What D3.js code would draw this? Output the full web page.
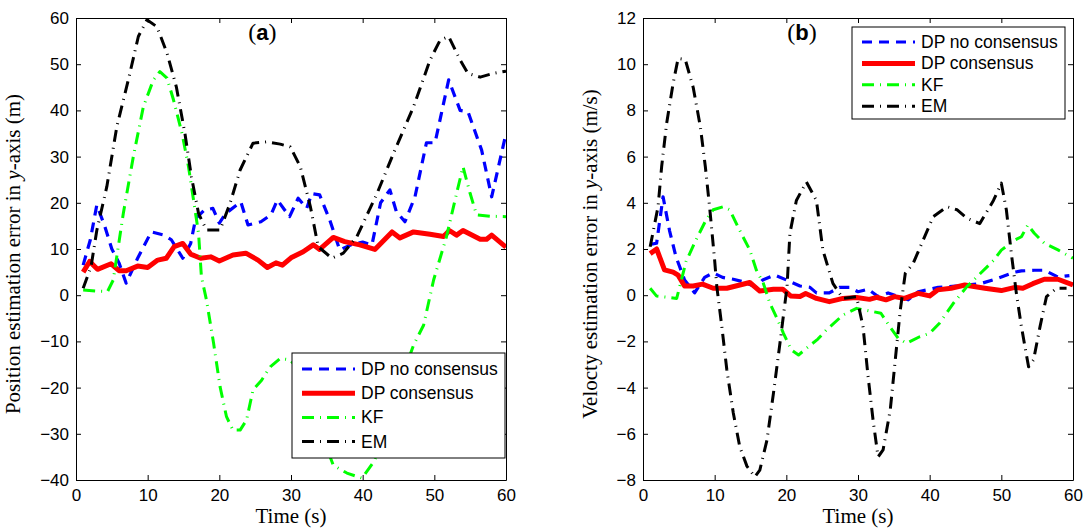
<!DOCTYPE html>
<html>
<head>
<meta charset="utf-8">
<script src="https://cdn.jsdelivr.net/npm/d3@7"></script>
<style>
body { margin: 0; background: #fff; }
.tick text { font-family: "Liberation Sans", Arial, sans-serif; font-size: 17px; fill: #000; }
.axis path, .axis line { stroke: #000; stroke-width: 1; }
.lbl { font-family: "Liberation Serif", "Times New Roman", serif; font-size: 21px; fill: #000; }
.leg text { font-family: "Liberation Sans", Arial, sans-serif; font-size: 17.5px; fill: #000; }
</style>
</head>
<body>
<svg id="chart" width="1085" height="529"></svg>
<script>
// legend / series names
var seriesNames = ["DP no consensus", "DP consensus", "KF", "EM"];
var xTicks = [0, 10, 20, 30, 40, 50, 60];
var yTicksA = [-40, -30, -20, -10, 0, 10, 20, 30, 40, 50, 60];
var yTicksB = [-8, -6, -4, -2, 0, 2, 4, 6, 8, 10, 12];

// (a) position error, [time, value]
var posDpNoCons = [[1,6.5],[2,12],[2.9,19.5],[4,15],[5,10],[6,7],[7,2.6],[8.6,8],[10.5,13.7],[12.3,13],[13.3,12],[14.9,8],[16,11.2],[16.7,16.6],[17.9,18.4],[19.1,18.8],[20,15.6],[20.9,17.7],[23,20.2],[24,15.2],[25.8,15.9],[27.2,17.4],[28.1,20.6],[29.8,17],[31,21],[32.2,18.8],[32.9,22],[34,21.7],[35.4,16.3],[36.8,9.8],[38.5,11],[40,11.5],[41.3,10.9],[42.5,20],[43.8,22.8],[44.7,18.1],[45.9,15.9],[47.3,21.3],[48.9,33],[50.1,33],[52,46.6],[53.6,40],[54.7,39.7],[56.6,31.4],[58,21.3],[60,35]];
var posDpCons = [[1,5],[1.9,7.3],[3,5.6],[4.9,6.8],[6,5.3],[7,5.3],[8.6,6.3],[10,6],[11.4,7.6],[12.6,8],[13.7,10.5],[14.9,11.2],[16,8.9],[17.4,8],[18.8,8.3],[20,7.4],[21.9,8.7],[23.7,9.1],[25.4,7.6],[26.7,6],[27.9,7],[28.8,6.5],[30,8.1],[31.7,9.4],[33.1,10.9],[34,9.9],[35.9,12.5],[37.5,11.6],[39.6,10.9],[41.7,9.9],[44.1,13.7],[45.2,12.4],[47.1,13.7],[49.4,13.2],[51.3,12.7],[52.1,14],[53.1,13],[54,14],[56.4,12.1],[57.3,12.1],[58,13],[60,10.4]];
var posKF = [[1,1.1],[2.8,0.9],[4.4,0.8],[5.2,3.3],[6.6,17.7],[8,30],[9.4,40.8],[10.8,46.6],[11.7,48.4],[12.7,47],[13.6,42.3],[14.8,35],[15.7,27.8],[16.4,20.6],[17.1,13.4],[17.5,4],[18.2,-1],[19.2,-10.4],[20.1,-19.8],[21,-26.3],[21.9,-29.2],[22.9,-29.2],[23.8,-27],[24.7,-20.5],[25.9,-18.4],[27.1,-15.5],[28.5,-13.7],[29.9,-14],[31.5,-17],[33.5,-27],[35.9,-36.8],[37.8,-38.5],[39.9,-39.6],[41.7,-35.7],[44.5,-22],[47.1,-10.8],[48.5,-6.5],[49.9,3.3],[51.7,12.7],[53.1,22],[54,27.8],[55,22],[55.9,17.4],[57.8,17.1],[60,17]];
var posEM = [[1,1.5],[2.1,6.2],[2.9,14],[4.3,23.5],[5.7,36.5],[7.3,46.6],[8.7,56],[9.9,59.6],[11.3,58.1],[12.7,52.4],[14,45.1],[15.2,35],[16.1,25.7],[17.1,17.7],[18.2,14.1],[20.1,14.1],[21.5,19.9],[22.9,27.1],[24.7,32.9],[26.6,33.2],[28.5,32.7],[29.9,32.1],[31.3,27.8],[32.7,19.2],[33.8,10.5],[35.7,8],[37.3,9.1],[39.2,12.7],[42,22],[44.3,30.7],[47.1,40.8],[49.4,50.9],[50.8,55.2],[52,56],[53.6,50.9],[54.7,48],[56.4,47.2],[58.2,48],[60,48.5]];

// (b) velocity error, [time, value]
var velDpNoCons = [[1,2.2],[1.9,2.25],[2.8,4.26],[3.7,2.8],[4.6,1.67],[5.8,0.66],[7.2,0.1],[8.6,0.77],[9.8,0.97],[11.1,0.77],[12.6,0.69],[14,0.58],[15.8,0.34],[16.7,0.66],[18.4,0.87],[20,0.66],[21.9,0.4],[23.3,0.34],[24.2,0.1],[26,0.1],[27.4,0.34],[28.8,0.34],[30,0.15],[31.4,0.26],[32.8,-0.06],[34.2,0.1],[37,-0.2],[38.4,0.15],[41.2,0.34],[44,0.4],[47.2,0.51],[49.5,0.73],[51.9,1],[52.8,1.05],[54.6,1.08],[56,1.08],[57.9,0.79],[59.5,0.85]];
var velDpCons = [[1,1.8],[1.9,2],[3,1.1],[4.2,1],[4.9,0.87],[5.8,0.4],[7,0.4],[8.3,0.48],[9.8,0.3],[11.7,0.3],[14.9,0.55],[16.3,0.18],[18.2,0.26],[19.5,0.26],[20.6,-0.03],[21.9,-0.06],[22.7,0.07],[24.2,-0.14],[26,-0.28],[27.9,-0.14],[29.8,-0.1],[31.6,-0.18],[32.6,-0.09],[33.9,-0.2],[35.1,-0.06],[36.5,-0.14],[38.4,0.08],[40,-0.03],[41.1,0.23],[43,0.3],[44.9,0.44],[47.7,0.3],[50,0.2],[51.9,0.34],[53,0.3],[54.4,0.5],[56,0.69],[57.9,0.69],[60,0.44]];
var velKF = [[1,0.3],[1.9,-0.04],[3.7,-0.1],[4.7,-0.14],[6,1.45],[7.4,2.4],[8.8,3.26],[9.8,3.7],[11.2,3.83],[12.1,3.7],[13.5,2.8],[14.9,1.96],[15.8,1.1],[16.8,0.51],[17.7,-0.35],[18.7,-1],[19.6,-1.65],[20.7,-2.37],[21.7,-2.59],[22.8,-2.3],[24.4,-1.9],[25.6,-1.5],[27.9,-0.86],[29.8,-0.57],[31.9,-0.7],[33.2,-0.78],[34.6,-1.43],[35.6,-1.86],[36.8,-2.08],[38.6,-1.8],[40,-1.65],[41.4,-1.2],[43.3,-0.35],[45.2,0.37],[47.1,0.95],[48.9,1.5],[50,1.95],[51.9,2.39],[52.8,2.53],[53.7,3.04],[54.6,2.68],[56,2.25],[57.9,1.96],[60,1.6]];
var velEM = [[1,2.1],[2.1,3.83],[2.6,5.56],[3.3,7.44],[4.2,9.17],[4.9,10.25],[5.9,10.2],[7,9],[8,7.3],[8.7,5.56],[9.3,3.8],[10,1.5],[10.3,0.37],[11,-1.36],[11.7,-3.24],[12.6,-5.1],[13.5,-6.56],[14.5,-7.4],[15.6,-7.86],[16.3,-7.57],[17.3,-6.27],[18.2,-4.25],[19.1,-2.1],[20.1,0.37],[20.5,2.68],[21.4,4.1],[22.8,4.9],[24.2,4.1],[25.1,1.95],[26.5,0.51],[27.9,-0.14],[29.8,-0.06],[30.7,-1.36],[31.4,-3.5],[32.1,-5.4],[32.8,-7],[33.5,-6.7],[34.5,-4.97],[35.2,-2.8],[35.9,-0.64],[36.6,0.95],[37.7,1.38],[39.1,2.39],[40.5,3.4],[42.4,3.83],[43.8,3.7],[45.2,3.33],[47,3.1],[48.9,4.1],[50,4.85],[50.7,3.7],[51.4,1.8],[52.1,0.08],[52.8,-1.36],[53.8,-3.1],[54.5,-2.8],[55.4,-1.36],[56.3,-0.06],[57.7,0.3],[59.1,0.3]];

var styles = [
	{ color: "#0000ff", width: 3.2, dash: "10,7" },
	{ color: "#ff0000", width: 5, dash: null },
	{ color: "#00ff00", width: 3, dash: "12,6,1,6" },
	{ color: "#000000", width: 3, dash: "12,6,1,6" }
];

var svg = d3.select("#chart");

function drawPanel(opt) {
	var left = opt.left, top = 18, w = 430, h = 462;

	var x = d3.scaleLinear().domain([0, 60]).range([0, w]);
	var y = d3.scaleLinear().domain(opt.yDomain).range([h, 0]);

	var g = svg.append("g")
		.attr("transform", "translate(" + left + "," + top + ")");

	g.append("clipPath").attr("id", opt.id + "clip")
		.append("rect").attr("width", w).attr("height", h);

	// axes with inside ticks, mirrored on the box
	g.append("g").attr("class", "axis")
		.attr("transform", "translate(0," + h + ")")
		.call(d3.axisBottom(x).tickValues(xTicks).tickSizeInner(-5).tickSizeOuter(0).tickPadding(9));
	g.append("g").attr("class", "axis")
		.call(d3.axisTop(x).tickValues(xTicks).tickSizeInner(-5).tickSizeOuter(0).tickFormat(""));
	g.append("g").attr("class", "axis")
		.call(d3.axisLeft(y).tickValues(opt.yTicks).tickSizeInner(-5).tickSizeOuter(0).tickPadding(7));
	g.append("g").attr("class", "axis")
		.attr("transform", "translate(" + w + ",0)")
		.call(d3.axisRight(y).tickValues(opt.yTicks).tickSizeInner(-5).tickSizeOuter(0).tickFormat(""));

	var line = d3.line()
		.x(function(d) { return x(d[0]); })
		.y(function(d) { return y(d[1]); });

	var lines = g.append("g").attr("clip-path", "url(#" + opt.id + "clip)");
	opt.series.forEach(function(s, i) {
		lines.append("path")
			.datum(s)
			.attr("fill", "none")
			.attr("stroke", styles[i].color)
			.attr("stroke-width", styles[i].width)
			.attr("stroke-dasharray", styles[i].dash)
			.attr("stroke-linejoin", "round")
			.attr("d", line);
	});

	// panel tag like (a)
	var tag = g.append("text").attr("class", "lbl")
		.attr("x", x(opt.tagT)).attr("y", 22)
		.attr("text-anchor", "middle")
		.style("font-size", "24px");
	tag.append("tspan").text("(");
	tag.append("tspan").text(opt.tag)
		.style("font-family", "'Liberation Sans', Arial, sans-serif")
		.style("font-weight", "bold").style("font-size", "22px");
	tag.append("tspan").text(")");

	// axis labels
	g.append("text").attr("class", "lbl")
		.attr("x", w / 2).attr("y", h + 43)
		.attr("text-anchor", "middle")
		.text("Time (s)");

	var yl = g.append("text").attr("class", "lbl")
		.attr("transform", "translate(" + opt.yLabelX + "," + (h / 2 + 5) + ") rotate(-90)")
		.attr("text-anchor", "middle");
	yl.append("tspan").text(opt.yLabel[0]);
	yl.append("tspan").style("font-style", "italic").text("y");
	yl.append("tspan").text(opt.yLabel[1]);

	// legend
	var L = opt.legend;
	var leg = g.append("g").attr("class", "leg")
		.attr("transform", "translate(" + L.x + "," + L.y + ")");
	leg.append("rect")
		.attr("width", L.w).attr("height", L.h)
		.attr("fill", "#fff").attr("stroke", "#000").attr("stroke-width", 1);
	seriesNames.forEach(function(name, i) {
		var cy = L.first + i * L.step;
		leg.append("line")
			.attr("x1", 10).attr("x2", 63)
			.attr("y1", cy).attr("y2", cy)
			.attr("stroke", styles[i].color)
			.attr("stroke-width", styles[i].width)
			.attr("stroke-dasharray", styles[i].dash);
		leg.append("text")
			.attr("x", 69).attr("y", cy + 6)
			.text(name);
	});
}

drawPanel({
	id: "a", left: 76,
	yDomain: [-40, 60], yTicks: yTicksA,
	series: [posDpNoCons, posDpCons, posKF, posEM],
	tag: "a", tagT: 26,
	yLabel: ["Position estimation error in ", "-axis (m)"], yLabelX: -56,
	legend: { x: 216, y: 335, w: 213, h: 105, first: 16, step: 24.2 }
});

drawPanel({
	id: "b", left: 643,
	yDomain: [-8, 12], yTicks: yTicksB,
	series: [velDpNoCons, velDpCons, velKF, velEM],
	tag: "b", tagT: 22.2,
	yLabel: ["Velocty estimation error in ", "-axis (m/s)"], yLabelX: -46,
	legend: { x: 209, y: 9, w: 213, h: 92, first: 15, step: 21.4 }
});
</script>
</body>
</html>
